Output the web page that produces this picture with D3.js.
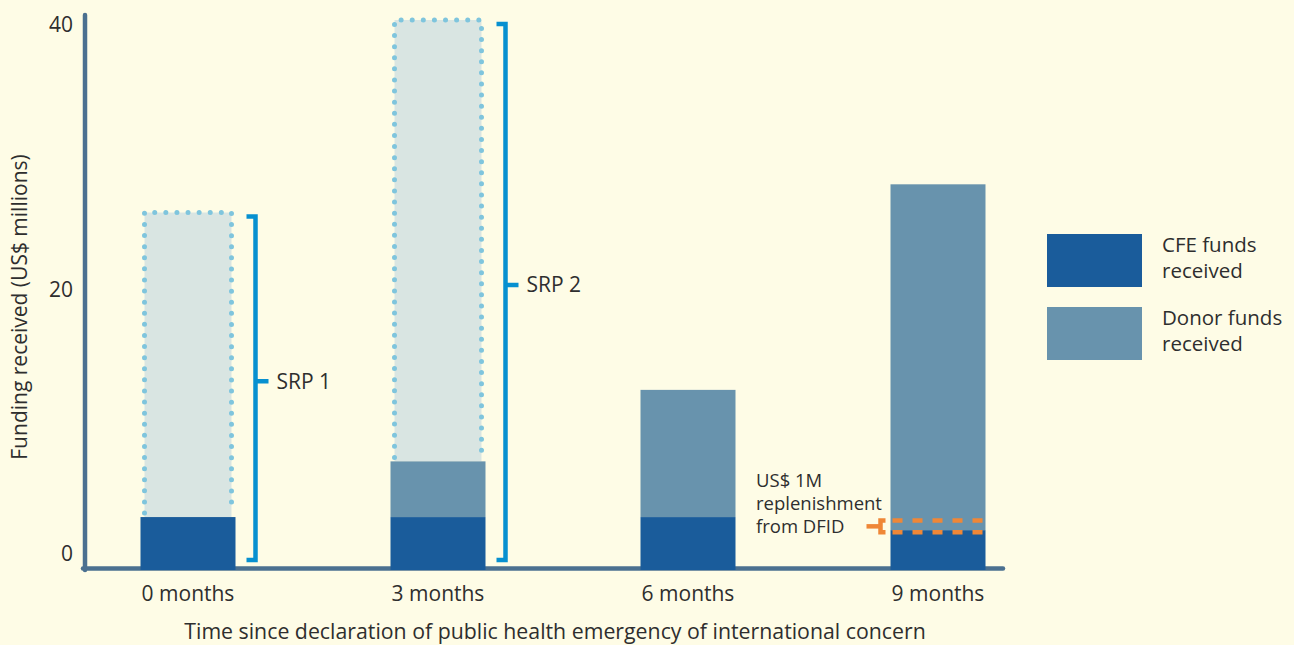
<!DOCTYPE html>
<html><head><meta charset="utf-8">
<script src="https://cdn.jsdelivr.net/npm/d3@7"></script>
<style>
html,body{margin:0;padding:0;background:#fefce6;}
svg{display:block;font-family:"Open Sans",sans-serif;}
</style></head>
<body>
<svg id="chart" width="1294" height="645"></svg>
<script>
// ---- data ----
const categories = ["0 months", "3 months", "6 months", "9 months"];
const cfeFunds   = [3.85, 3.85, 3.85, 2.9];
const donorFunds = [0, 4.05, 9.25, 25.15];
const srpTargets = [26, 40, null, null];
const srpLabels  = ["SRP 1", "SRP 2", null, null];
const yTicks = [0, 20, 40];
const replenishLines = [2.75, 3.6];   // at 9 months
const replenishText = ["US$ 1M", "replenishment", "from DFID"];
const legendItems = [
  {key: "cfe", lines: ["CFE funds", "received"]},
  {key: "donor", lines: ["Donor funds", "received"]}
];
const xTitle = "Time since declaration of public health emergency of international concern";
const yTitle = "Funding received (US$ millions)";

// ---- styles ----
const colors = {cfe: "#1a5c9b", donor: "#6893ad", srpFill: "#d9e5e2", srpDot: "#7fc5dd",
  bracket: "#0790d0", axis: "#4b7090", text: "#2e2e2e", orange: "#ef8737"};

const svg = d3.select("#chart");
const y = d3.scaleLinear().domain([0, 40]).range([570, 20]);
const yLabel = d3.scaleLinear().domain([0, 40]).range([554, 25]); // tick label placement
const x = d3.scalePoint().domain(categories).range([188, 938]);
const barW = 95;

// axes lines
svg.append("line").attr("x1", 85).attr("x2", 85).attr("y1", 15).attr("y2", 570)
  .attr("stroke", colors.axis).attr("stroke-width", 4.5).attr("stroke-linecap", "round");
svg.append("line").attr("x1", 83).attr("x2", 1003).attr("y1", 568.5).attr("y2", 568.5)
  .attr("stroke", colors.axis).attr("stroke-width", 4.5).attr("stroke-linecap", "round");

// y tick labels
svg.append("g").selectAll("text").data(yTicks).join("text")
  .attr("x", 73).attr("y", d => yLabel(d)).attr("dy", "0.35em")
  .attr("text-anchor", "end").attr("font-size", 21).attr("fill", colors.text)
  .text(d => d);

// SRP planned boxes
categories.forEach((c, i) => {
  if (srpTargets[i] == null) return;
  const x0 = x(c) - barW / 2 + 4, x1 = x(c) + barW / 2 - 4;
  const top = y(srpTargets[i]);
  const bot = y(cfeFunds[i] + donorFunds[i]);
  svg.append("rect").attr("x", x0).attr("y", top).attr("width", x1 - x0).attr("height", bot - top)
    .attr("fill", colors.srpFill);
  svg.append("path").attr("d", `M${x0},${bot - 4}L${x0},${top}L${x1},${top}L${x1},${bot - 4}`)
    .attr("fill", "none").attr("stroke", colors.srpDot).attr("stroke-width", 5)
    .attr("stroke-linecap", "round").attr("stroke-dasharray", "0 11.1");
});

// bars
const barsG = svg.append("g");
categories.forEach((c, i) => {
  const bx = x(c) - barW / 2;
  barsG.append("rect").attr("x", bx).attr("width", barW)
    .attr("y", y(cfeFunds[i])).attr("height", y(0) - y(cfeFunds[i])).attr("fill", colors.cfe);
  if (donorFunds[i] > 0) {
    barsG.append("rect").attr("x", bx).attr("width", barW)
      .attr("y", y(cfeFunds[i] + donorFunds[i])).attr("height", y(cfeFunds[i]) - y(cfeFunds[i] + donorFunds[i]))
      .attr("fill", colors.donor);
  }
});

// SRP brackets
categories.forEach((c, i) => {
  if (srpTargets[i] == null) return;
  const bx = x(c) + barW / 2 + 20;
  const top = y(srpTargets[i]) + 4, bot = y(0) - 10;
  const mid = (top + bot) / 2 - 7;
  svg.append("path").attr("d", `M${bx - 9},${top}L${bx},${top}L${bx},${bot}L${bx - 9},${bot}`)
    .attr("fill", "none").attr("stroke", colors.bracket).attr("stroke-width", 4.5);
  svg.append("line").attr("x1", bx).attr("x2", bx + 13).attr("y1", mid).attr("y2", mid)
    .attr("stroke", colors.bracket).attr("stroke-width", 4.5);
  svg.append("text").attr("x", bx + 21).attr("y", mid).attr("dy", "0.35em")
    .attr("font-size", 21).attr("fill", colors.text).text(srpLabels[i]);
});

// replenishment dashed lines at 9 months
const last = categories[3];
const rx0 = x(last) - barW / 2, rx1 = x(last) + barW / 2;
replenishLines.forEach(v => {
  svg.append("line").attr("x1", rx0 + 2).attr("x2", rx1).attr("y1", y(v)).attr("y2", y(v))
    .attr("stroke", colors.orange).attr("stroke-width", 4.5).attr("stroke-dasharray", "10 10");
});
{
  const t = y(replenishLines[1]), b = y(replenishLines[0]), m = (t + b) / 2;
  const bx = rx0 - 10;
  svg.append("path").attr("d", `M${bx + 5},${t}L${bx},${t}L${bx},${b}L${bx + 5},${b}`)
    .attr("fill", "none").attr("stroke", colors.orange).attr("stroke-width", 4.5);
  svg.append("line").attr("x1", bx - 14).attr("x2", bx).attr("y1", m).attr("y2", m)
    .attr("stroke", colors.orange).attr("stroke-width", 4.5);
  svg.append("g").selectAll("text").data(replenishText).join("text")
    .attr("x", 756).attr("y", (d, k) => m - 46 + k * 23).attr("dy", "0.35em")
    .attr("font-size", 18.5).attr("fill", colors.text).text(d => d);
}

// x labels
svg.append("g").selectAll("text").data(categories).join("text")
  .attr("x", d => x(d)).attr("y", 594).attr("dy", "0.35em").attr("text-anchor", "middle")
  .attr("font-size", 21).attr("fill", colors.text).text(d => d);

// axis titles
svg.append("text").attr("x", 555).attr("y", 632).attr("dy", "0.35em").attr("text-anchor", "middle")
  .attr("font-size", 21.3).attr("fill", colors.text).text(xTitle);
svg.append("text").attr("transform", "translate(20,307) rotate(-90)").attr("dy", "0.35em")
  .attr("text-anchor", "middle").attr("font-size", 21).attr("fill", colors.text).text(yTitle);

// legend
const lg = svg.append("g").selectAll("g").data(legendItems).join("g")
  .attr("transform", (d, i) => `translate(1047,${234 + i * 73})`);
lg.append("rect").attr("width", 95).attr("height", 53).attr("fill", d => colors[d.key]);
lg.each(function(d) {
  d3.select(this).selectAll("text").data(d.lines).join("text")
    .attr("x", 115).attr("y", (t, k) => 11 + k * 26).attr("dy", "0.35em")
    .attr("font-size", 20.5).attr("fill", colors.text).text(t => t);
});
</script>
</body></html>
